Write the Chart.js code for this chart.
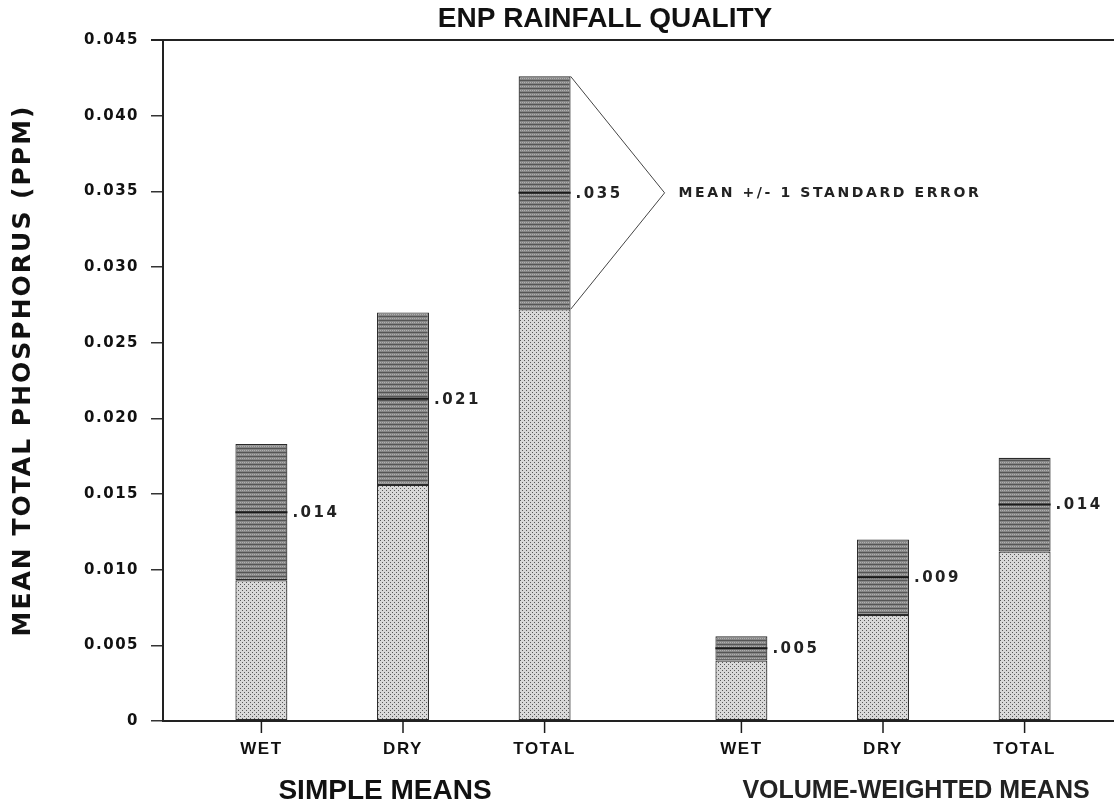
<!DOCTYPE html>
<html>
<head>
<meta charset="utf-8">
<script src="https://cdn.jsdelivr.net/npm/chart.js@4"></script>
<style>
  html, body { margin: 0; padding: 0; background: #fff; overflow: hidden; }
  canvas { display: block; }
</style>
</head>
<body>
<canvas id="rain_chart" width="1123" height="809"></canvas>
<script>
// ENP rainfall quality - total phosphorus means
var groups = ['SIMPLE MEANS', 'VOLUME-WEIGHTED MEANS'];
var periods = ['WET', 'DRY', 'TOTAL'];

var simpleMeans = [0.0138, 0.0213, 0.0349];
var simpleErrors = [0.0045, 0.0057, 0.0077];
var simpleLabels = ['.014', '.021', '.035'];

var weightedMeans = [0.0048, 0.0095, 0.0143];
var weightedErrors = [0.0008, 0.0025, 0.0031];
var weightedLabels = ['.005', '.009', '.014'];

var errorNote = 'MEAN +/- 1 STANDARD ERROR';

// grey screen-tone fills like the original plot
function makePattern(draw, w, h) {
    var c = document.createElement('canvas');
    c.width = w; c.height = h;
    draw(c.getContext('2d'));
    return document.getElementById('rain_chart').getContext('2d').createPattern(c, 'repeat');
}
var lightTone = makePattern(function (g) {
    g.fillStyle = '#d8d8d8'; g.fillRect(0, 0, 4, 4);
    g.fillStyle = '#585858';
    g.fillRect(0, 0, 1, 1); g.fillRect(2, 2, 1, 1);
}, 4, 4);
var darkTone = makePattern(function (g) {
    g.fillStyle = '#868686'; g.fillRect(0, 0, 4, 4);
    g.fillStyle = '#555'; g.fillRect(0, 0, 4, 1);
    g.fillStyle = '#b0b0b0'; g.fillRect(0, 2, 1, 1); g.fillRect(2, 2, 1, 1);
}, 4, 4);

var datasets = [];
periods.forEach(function (p, i) {
    var sLow = simpleMeans[i] - simpleErrors[i], sHigh = simpleMeans[i] + simpleErrors[i];
    var wLow = weightedMeans[i] - weightedErrors[i], wHigh = weightedMeans[i] + weightedErrors[i];
    datasets.push({
        label: p + ' below',
        stack: p,
        data: [[0, sLow], [0, wLow]],
        backgroundColor: lightTone,
        borderColor: '#2a2a2a',
        borderWidth: 1.2,
        borderSkipped: false
    });
    datasets.push({
        label: p + ' +/- SE',
        stack: p,
        data: [[sLow, sHigh], [wLow, wHigh]],
        backgroundColor: darkTone,
        borderColor: '#2a2a2a',
        borderWidth: 1.2,
        borderSkipped: false
    });
});

var bold = function (size, fam) { return 'bold ' + size + 'px ' + (fam || '"Liberation Sans", Arial, sans-serif'); };

// text, mean lines, callout and axis extras
var decorations = {
    id: 'decorations',
    beforeDraw: function (chart) {
        chart.ctx.letterSpacing = '1.5px';
    },
    afterDraw: function (chart) {
        var ctx = chart.ctx, area = chart.chartArea, y = chart.scales.y;
        ctx.save();
        ctx.letterSpacing = '0px';

        // frame top
        ctx.strokeStyle = '#222';
        ctx.lineWidth = 2;
        ctx.beginPath();
        ctx.moveTo(area.left - 12, area.top);
        ctx.lineTo(area.right, area.top);
        ctx.stroke();

        // title
        ctx.fillStyle = '#111';
        ctx.textAlign = 'center';
        ctx.textBaseline = 'middle';
        ctx.font = bold(28);
        ctx.fillText('ENP RAINFALL QUALITY', 605, 19);

        // y axis title
        ctx.save();
        ctx.translate(23, (area.top + area.bottom) / 2 - 10);
        ctx.rotate(-Math.PI / 2);
        ctx.font = bold(25, '"DejaVu Sans", sans-serif');
        ctx.letterSpacing = '2px';
        ctx.fillText('MEAN TOTAL PHOSPHORUS (PPM)', 0, 0);
        ctx.restore();

        var allMeans = [simpleMeans, weightedMeans];
        var allLabels = [simpleLabels, weightedLabels];
        periods.forEach(function (p, i) {
            var meta = chart.getDatasetMeta(i * 2 + 1);
            meta.data.forEach(function (el, g) {
                var half = el.width / 2;
                var my = y.getPixelForValue(allMeans[g][i]);
                // mean line
                ctx.strokeStyle = '#1a1a1a';
                ctx.lineWidth = 2;
                ctx.beginPath();
                ctx.moveTo(el.x - half, my);
                ctx.lineTo(el.x + half, my);
                ctx.stroke();
                // mean label
                ctx.font = bold(15, '"DejaVu Sans", sans-serif');
                ctx.letterSpacing = '2.5px';
                ctx.textAlign = 'left';
                ctx.fillStyle = '#222';
                ctx.fillText(allLabels[g][i], el.x + half + 5, my + 1);
                // x tick mark + period label
                ctx.lineWidth = 1.5;
                ctx.beginPath();
                ctx.moveTo(el.x, area.bottom);
                ctx.lineTo(el.x, area.bottom + 12);
                ctx.stroke();
                ctx.font = bold(17);
                ctx.letterSpacing = '1.5px';
                ctx.textAlign = 'center';
                ctx.fillStyle = '#111';
                ctx.fillText(p, el.x, 749);
            });
        });

        // callout on the simple TOTAL bar
        var total = chart.getDatasetMeta(5).data[0];
        var right = total.x + total.width / 2;
        var tipY = y.getPixelForValue(simpleMeans[2]);
        ctx.strokeStyle = '#444';
        ctx.lineWidth = 1;
        ctx.beginPath();
        ctx.moveTo(right, total.y);
        ctx.lineTo(right + 94, tipY);
        ctx.lineTo(right, total.base);
        ctx.stroke();
        ctx.font = bold(14, '"DejaVu Sans", sans-serif');
        ctx.letterSpacing = '2.6px';
        ctx.textAlign = 'left';
        ctx.fillStyle = '#222';
        ctx.fillText(errorNote, right + 108, tipY + 1);

        // group captions
        var xs = chart.scales.x;
        ctx.font = bold(28);
        ctx.letterSpacing = '0px';
        ctx.textAlign = 'center';
        ctx.fillStyle = '#111';
        ctx.fillText(groups[0], xs.getPixelForValue(0) - 18, 791);
        ctx.font = bold(25);
        ctx.fillStyle = '#222';
        ctx.fillText(groups[1], xs.getPixelForValue(1) + 33, 791);

        ctx.restore();
        ctx.letterSpacing = '0px';
    }
};

var ctx = document.getElementById('rain_chart').getContext('2d');
var rainChart = new Chart(ctx, {
    type: 'bar',
    data: {
        labels: groups,
        datasets: datasets
    },
    options: {
        responsive: false,
        animation: false,
        categoryPercentage: 0.885,
        barPercentage: 0.367,
        layout: { padding: { left: 55, top: 40, right: 0, bottom: 0 } },
        plugins: {
            legend: { display: false },
            tooltip: { enabled: false }
        },
        scales: {
            x: {
                grid: { display: false },
                ticks: { display: false },
                border: { display: true, color: '#222', width: 2 },
                afterFit: function (s) { s.height = 88; }
            },
            y: {
                min: 0,
                max: 0.045,
                stacked: false,
                grid: { drawOnChartArea: false, tickLength: 12, color: '#333', lineWidth: 1.5 },
                border: { display: true, color: '#222', width: 2 },
                ticks: {
                    stepSize: 0.005,
                    padding: 12,
                    color: '#111',
                    font: { family: '"DejaVu Sans", sans-serif', weight: 'bold', size: 15 },
                    callback: function (v) { return v === 0 ? '0' : v.toFixed(3); }
                },
                afterFit: function (s) { s.width = 108; }
            }
        }
    },
    plugins: [decorations]
});
</script>
</body>
</html>
